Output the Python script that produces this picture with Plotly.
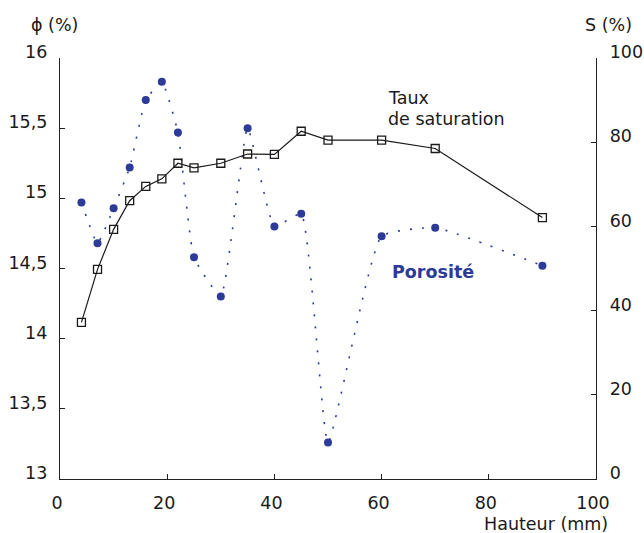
import plotly.graph_objects as go

# Data
hauteur_phi = [4, 7, 10, 13, 16, 19, 22, 25, 30, 35, 40, 45, 50, 60, 70, 90]
porosite = [14.97, 14.68, 14.93, 15.22, 15.70, 15.83, 15.47, 14.58, 14.30, 15.50, 14.80, 14.89, 13.26, 14.73, 14.79, 14.52]

hauteur_s = [4, 7, 10, 13, 16, 19, 22, 25, 30, 35, 40, 45, 50, 60, 70, 90]
saturation = [37.2, 49.8, 59.3, 66.1, 69.5, 71.3, 75.0, 73.9, 75.0, 77.2, 77.1, 82.6, 80.5, 80.5, 78.5, 62.1]

phi_ticks = [13, 13.5, 14, 14.5, 15, 15.5, 16]
phi_ticktext = ["13", "13,5", "14", "14,5", "15", "15,5", "16"]
s_ticks = [0, 20, 40, 60, 80, 100]
x_ticks = [0, 20, 40, 60, 80, 100]

BLUE = "#2c3a98"
FONT = "DejaVu Sans, Liberation Sans, sans-serif"
TXT = "#1a1a1a"
FS = 17.5

W, H = 644, 533
L, R, T, B = 60, 48, 58, 54
PW, PH = W - L - R, H - T - B


def ann(text, px, py, size=FS, color=TXT, xanchor="center", align="center"):
    return dict(text=text, x=(px - L) / PW, y=1 - (py - T) / PH,
                xref="paper", yref="paper", showarrow=False,
                xanchor=xanchor, yanchor="middle", align=align,
                font=dict(family=FONT, size=size, color=color))


fig = go.Figure()
fig.add_trace(go.Scatter(
    x=hauteur_phi, y=porosite, mode="lines+markers",
    line=dict(color=BLUE, width=1.6, dash="2px,10px", shape="spline", smoothing=0.4),
    marker=dict(symbol="circle", size=8, color=BLUE),
    yaxis="y", showlegend=False, cliponaxis=False))
fig.add_trace(go.Scatter(
    x=hauteur_s, y=saturation, mode="lines+markers",
    line=dict(color=TXT, width=1.2),
    marker=dict(symbol="square-open", size=8, color=TXT, line=dict(width=1.3)),
    yaxis="y2", showlegend=False, cliponaxis=False))

axis_common = dict(showgrid=False, zeroline=False, showline=True, linecolor="#222",
                   linewidth=1.3, ticks="inside", ticklen=5, tickcolor="#222",
                   automargin=False,
                   tickfont=dict(family=FONT, size=FS, color=TXT))

fig.update_layout(
    width=W, height=H,
    margin=dict(l=L, r=R, t=T, b=B, autoexpand=False),
    plot_bgcolor="white", paper_bgcolor="white",
    xaxis=dict(range=[0, 100], tickvals=x_ticks, ticklabelstandoff=8,
               ticklabelshift=-3, **axis_common),
    yaxis=dict(range=[13, 16], tickvals=phi_ticks, ticktext=phi_ticktext,
               ticklabelstandoff=8, ticklabelshift=-6, **axis_common),
    yaxis2=dict(range=[0, 100], tickvals=s_ticks, overlaying="y", side="right",
                ticklabelstandoff=9, ticklabelshift=-6, **axis_common),
    annotations=[
        ann("ϕ (%)", 54, 25),
        ann("S (%)", 608, 25),
        ann("Hauteur (mm)", 546, 524),
        ann("Taux", 386, 98, xanchor="left", align="left"),
        ann("de saturation", 386, 119, xanchor="left", align="left"),
        ann("<b>Porosité</b>", 433, 272, color=BLUE),
    ],
)

fig.write_html("out.html")
